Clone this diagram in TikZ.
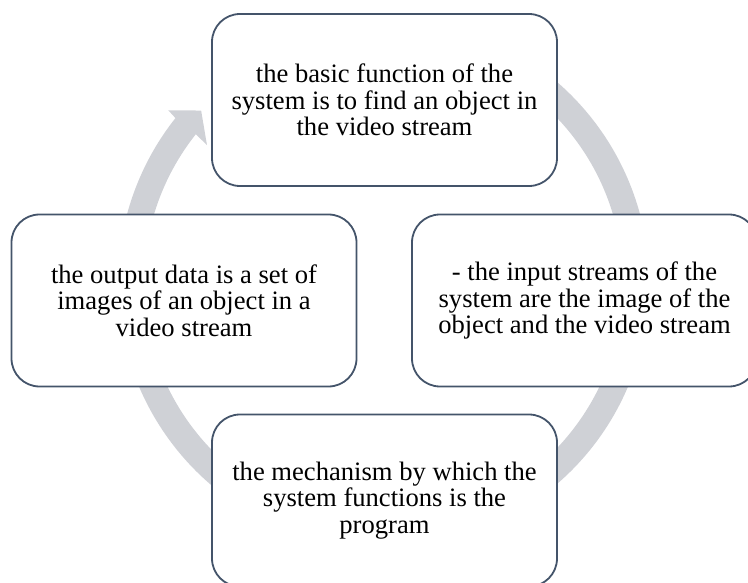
\documentclass[tikz,border=0pt]{standalone}
\usepackage{xcolor}
\usepackage{fontspec}
\setmainfont{Liberation Serif}
\definecolor{boxline}{HTML}{44546A}
\definecolor{ringgray}{RGB}{207,209,214}

\begin{document}
\begin{tikzpicture}[x=1pt,y=1pt,
  cyclebox/.style={draw=boxline,line width=1.8pt,fill=white,rounded corners=28pt,
    minimum width=345pt,minimum height=172pt,align=center,
    font=\fontsize{26.6}{26.6}\selectfont}]
\useasboundingbox (0,0) rectangle (748,582);
\clip (0,0) rectangle (748,582);
\begin{scope}[shift={(383.5,299)}]
\fill[ringgray] (80:265.5pt) arc[start angle=80,end angle=-218.4,radius=265.5pt]
  -- (-218.75:276pt) -- (-223.4:251pt) -- (-218:224pt) -- (-218.4:239.5pt)
  arc[start angle=-218.4,end angle=80,radius=239.5pt] -- cycle;
\end{scope}
\node[cyclebox] (basic) at (384.5,482) {the basic function of the\\system is to find an object in\\the video stream};
\node[cyclebox] (input) at (584.5,281.5) {- the input streams of the\\system are the image of the\\object and the video stream};
\node[cyclebox] (mech) at (384.5,81.5) {the mechanism by which the\\system functions is the\\program};
\node[cyclebox] (output) at (184,281.5) {the output data is a set of\\images of an object in a\\video stream};
\end{tikzpicture}
\end{document}
